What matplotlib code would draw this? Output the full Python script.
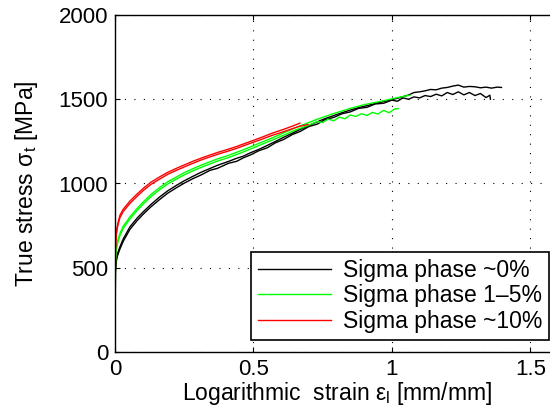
import matplotlib
matplotlib.use("Agg")
import matplotlib.pyplot as plt

plt.rcParams['font.family'] = ['Liberation Sans', 'DejaVu Sans']
plt.rcParams['mathtext.fontset'] = 'custom'
plt.rcParams['mathtext.rm'] = 'Liberation Sans'
plt.rcParams['mathtext.it'] = 'Liberation Sans'

# ---- data (true strain [mm/mm], true stress [MPa]) ----
B1_eps = [0, 0.0015, 0.004, 0.008, 0.013, 0.018, 0.03, 0.054, 0.08, 0.102, 0.13, 0.162, 0.19, 0.223, 0.25, 0.283,
          0.31, 0.343, 0.37, 0.41, 0.44, 0.463, 0.49, 0.52, 0.55, 0.58, 0.61, 0.64, 0.67, 0.7, 0.73, 0.76, 0.79,
          0.82, 0.85, 0.88, 0.91, 0.94, 0.97, 1.0, 1.02, 1.04, 1.06, 1.08, 1.1, 1.12, 1.14, 1.16, 1.18, 1.2, 1.22,
          1.24, 1.26, 1.28, 1.3, 1.32, 1.34, 1.36, 1.38, 1.396]
B1_sig = [0, 480, 545, 578, 603, 625, 672, 743, 795, 832, 876, 921, 956, 990, 1016, 1044,
          1066, 1089, 1108, 1131, 1150, 1162, 1183, 1203, 1226, 1250, 1275, 1298, 1322, 1344, 1366, 1386, 1403,
          1420, 1436, 1450, 1462, 1475, 1486, 1497, 1506, 1515, 1525, 1540, 1544, 1550, 1558, 1556, 1566, 1570, 1578,
          1584, 1572, 1576, 1574, 1568, 1572, 1566, 1572, 1570]

B2_eps = [0, 0.0015, 0.004, 0.008, 0.013, 0.018, 0.03, 0.054, 0.08, 0.102, 0.13, 0.162, 0.19, 0.223, 0.25, 0.283,
          0.31, 0.343, 0.37, 0.41, 0.44, 0.463, 0.49, 0.52, 0.55, 0.58, 0.61, 0.64, 0.67, 0.7, 0.73, 0.76, 0.79,
          0.82, 0.85, 0.88, 0.91, 0.94, 0.97, 1.0, 1.02, 1.04, 1.06, 1.08, 1.1, 1.12, 1.14, 1.16, 1.18, 1.2, 1.22,
          1.24, 1.26, 1.28, 1.3, 1.32, 1.34, 1.354, 1.356]
B2_sig = [0, 470, 530, 565, 590, 612, 658, 728, 780, 818, 862, 906, 942, 976, 1002, 1030,
          1050, 1078, 1090, 1120, 1132, 1152, 1170, 1195, 1212, 1242, 1262, 1290, 1310, 1338, 1352, 1380, 1392,
          1414, 1425, 1446, 1452, 1472, 1476, 1495, 1488, 1508, 1500, 1514, 1508, 1522, 1516, 1530, 1520, 1540, 1528,
          1544, 1526, 1540, 1522, 1534, 1510, 1524, 1500]

G1_eps = [0, 0.0015, 0.004, 0.008, 0.013, 0.018, 0.03, 0.054, 0.08, 0.102, 0.13, 0.162, 0.19, 0.223, 0.25, 0.283,
          0.31, 0.343, 0.37, 0.41, 0.463, 0.5, 0.534, 0.57, 0.608, 0.65, 0.7, 0.728, 0.78, 0.848, 0.9, 0.969,
          1.02, 1.065]
G1_sig = [0, 540, 608, 648, 680, 704, 748, 802, 852, 891, 935, 977, 1010, 1040, 1064, 1089,
          1108, 1129, 1146, 1167, 1200, 1225, 1248, 1272, 1300, 1330, 1362, 1380, 1410, 1445, 1468, 1491,
          1510, 1524]

G2_eps = [0, 0.0015, 0.004, 0.008, 0.013, 0.018, 0.03, 0.054, 0.08, 0.102, 0.13, 0.162, 0.19, 0.223, 0.25, 0.283,
          0.31, 0.343, 0.37, 0.41, 0.463, 0.5, 0.534, 0.57, 0.608, 0.65, 0.7, 0.73, 0.75, 0.77, 0.79, 0.81,
          0.83, 0.85, 0.87, 0.89, 0.91, 0.93, 0.95, 0.97, 0.99, 1.01, 1.023]
G2_sig = [0, 525, 595, 636, 668, 692, 735, 790, 840, 878, 922, 964, 997, 1027, 1051, 1076,
          1095, 1116, 1133, 1154, 1187, 1212, 1235, 1259, 1286, 1316, 1346, 1368, 1362, 1382, 1372, 1394,
          1384, 1406, 1398, 1414, 1404, 1422, 1412, 1434, 1420, 1442, 1445]

R1_eps = [0, 0.0015, 0.004, 0.008, 0.012, 0.018, 0.03, 0.054, 0.08, 0.102, 0.13, 0.162, 0.19, 0.223, 0.25, 0.283,
          0.31, 0.343, 0.37, 0.41, 0.44, 0.463, 0.5, 0.534, 0.57, 0.61, 0.64, 0.668]
R1_sig = [0, 620, 700, 745, 775, 812, 848, 896, 938, 971, 1008, 1040, 1066, 1091, 1110, 1133,
          1150, 1169, 1184, 1204, 1220, 1234, 1256, 1277, 1300, 1322, 1340, 1358]

R2_eps = [0, 0.0015, 0.004, 0.008, 0.012, 0.018, 0.03, 0.054, 0.08, 0.102, 0.13, 0.162, 0.19, 0.223, 0.25, 0.283,
          0.31, 0.343, 0.37, 0.41, 0.44, 0.463, 0.5, 0.534, 0.57, 0.61, 0.64, 0.668, 0.697]
R2_sig = [0, 600, 685, 732, 762, 798, 834, 882, 924, 958, 995, 1027, 1054, 1079, 1098, 1121,
          1139, 1158, 1173, 1193, 1209, 1223, 1245, 1265, 1287, 1308, 1325, 1340, 1350]

labels = ['Sigma phase ~0%', 'Sigma phase 1\u20135%', 'Sigma phase ~10%']
x_ticks = [0, 0.5, 1, 1.5]
x_ticklabels = ['0', '0.5', '1', '1.5']
y_ticks = [0, 500, 1000, 1500, 2000]

# ---- figure ----
fig = plt.figure(figsize=(5.5, 4.15), dpi=100)
ax = fig.add_axes([115/550, 63/415, 443/550, 337/415])

lw = 1.0
ax.plot(B1_eps, B1_sig, color='black', lw=lw, label=labels[0])
ax.plot(B2_eps, B2_sig, color='black', lw=lw)
ax.plot(G1_eps, G1_sig, color='#00ff00', lw=lw, label=labels[1])
ax.plot(G2_eps, G2_sig, color='#00ff00', lw=lw)
ax.plot(R1_eps, R1_sig, color='red', lw=lw, label=labels[2])
ax.plot(R2_eps, R2_sig, color='red', lw=lw)

ax.set_xlim(0, 1.6)
ax.set_ylim(0, 2000)
ax.set_xticks(x_ticks)
ax.set_xticklabels(x_ticklabels)
ax.set_yticks(y_ticks)
ax.grid(True, color='black', linestyle=(0, (1, 7.5)), linewidth=0.8)
ax.tick_params(direction='in', top=True, right=True, length=3.5, width=0.8,
               labelsize=16, pad=5)
for s in ax.spines.values():
    s.set_linewidth(1.0)

ax.set_xlabel('Logarithmic  strain $\\mathregular{\u03b5_l}$ [mm/mm]', fontsize=16.5, labelpad=0)
ax.set_ylabel('True stress $\\mathregular{\u03c3_t}$ [MPa]', fontsize=16.5, labelpad=13)

leg = ax.legend(loc='lower right', bbox_to_anchor=(549/550, 75/415), bbox_transform=fig.transFigure,
                fancybox=False, framealpha=1, edgecolor='black', fontsize=16.5,
                handlelength=3.2, handletextpad=0.5, labelspacing=0.12, borderpad=0.3,
                borderaxespad=0)
leg.get_frame().set_linewidth(1.2)

fig.savefig('out.png', dpi=100)
